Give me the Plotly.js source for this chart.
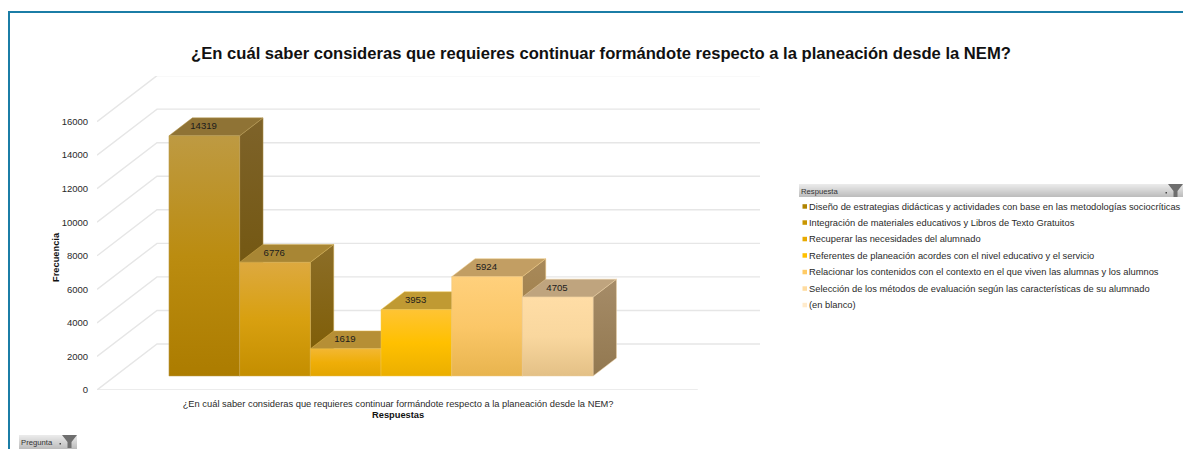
<!DOCTYPE html>
<html><head><meta charset="utf-8">
<script src="https://cdn.plot.ly/plotly-3.0.1.min.js"></script>
<style>html,body{margin:0;padding:0;background:#fff}#c{width:1183px;height:449px}</style>
</head><body><div id="c"></div>
<script>
// ---- data ----
const question = "¿En cuál saber consideras que requieres continuar formándote respecto a la planeación desde la NEM?";
const chartTitle = "¿En cuál saber consideras que requieres continuar formándote respecto a la planeación desde la NEM?";
const categories = [
  "Diseño de estrategias didácticas y actividades con base en las metodologías sociocríticas",
  "Integración de materiales educativos y Libros de Texto Gratuitos",
  "Recuperar las necesidades del alumnado",
  "Referentes de planeación acordes con el nivel educativo y el servicio",
  "Relacionar los contenidos con el contexto en el que viven las alumnas y los alumnos",
  "Selección de los métodos de evaluación según las características de su alumnado",
  "(en blanco)"
];
const values = [14319, 6776, 1619, 3953, 5924, 4705];
const yTicks = [0, 2000, 4000, 6000, 8000, 10000, 12000, 14000, 16000];

// ---- styles ----
const legendColors = ["#B08400","#C99600","#E8AA00","#FFC000","#FFCB66","#FFDCA0","#FFEBCC"];
const frontTop    = ["#BE9A42","#DDA93F","#F3B732","#FFC434","#FFD07C","#FFDDA6"];
const frontMid    = ["#BB8C10","#D8A010","#EFAE08","#FFC000","#FBC768","#F9D79E"];
const frontBottom = ["#AC7C00","#C48E00","#E3A500","#EBAF00","#E8B44E","#E3C086"];
const sideTop     = ["#7E632A","#8C6E28","#9A7A22","#A58420","#A8895A","#A68C68"];
const sideBottom  = ["#6C4F00","#7C5A00","#8C6A00","#98780A","#98783C","#927850"];
const topColor    = ["#8F7335","#A88634","#B68F35","#C09A33","#C29E63","#BFA47E"];
const edge        = ["#B89A50","#D0AC50","#E6BC50","#F0C850","#EFC880","#EBCFA0"];
const FONT = 'Liberation Sans, Arial, sans-serif';

// ---- oblique projection onto the library's axes ----
const DX = 0.849, DY = 2742;     // axis units per unit of depth
const D1 = 0.304, D2 = 0.694;    // bars' front and back plane
const xRange = [-0.76, 8.62], yRange = [0, 18718];
const P = (c, v, d) => [c + d * DX, v + d * DY];
function poly(pts) { const a = pts.concat([pts[0]]); return {x: a.map(p => p[0]), y: a.map(p => p[1])}; }
const shared = {type:'scatter', mode:'lines', fill:'toself', hoverinfo:'skip', showlegend:false};

const traces = [];
// wall and floor gridlines
const grid = {x:[], y:[]};
yTicks.forEach(t => {
  const a = P(0,t,0), b = P(0,t,1);
  grid.x.push(xRange[0], xRange[0] + DX, xRange[1], null);
  grid.y.push(a[1], b[1], b[1], null);
});
traces.push({type:'scatter', mode:'lines', cliponaxis:false, x:grid.x, y:grid.y, line:{color:'#E6E6E6', width:1.4}, hoverinfo:'skip', showlegend:false});
traces.push({type:'scatter', mode:'lines', cliponaxis:false, x:[xRange[0], 7.74], y:[0,0], line:{color:'#E6E6E6', width:1.4}, hoverinfo:'skip', showlegend:false});

// bars
values.forEach((v, i) => {
  const side = poly([P(i+1,0,D1), P(i+1,0,D2), P(i+1,v,D2), P(i+1,v,D1)]);
  const top  = poly([P(i,v,D1), P(i+1,v,D1), P(i+1,v,D2), P(i,v,D2)]);
  const front= poly([P(i,0,D1), P(i+1,0,D1), P(i+1,v,D1), P(i,v,D1)]);
  traces.push(Object.assign({}, shared, side, {
    line:{color:edge[i], width:0.5},
    fillgradient:{type:'vertical', colorscale:[[0,sideBottom[i]],[1,sideTop[i]]]}
  }));
  traces.push(Object.assign({}, shared, top, {
    line:{color:edge[i], width:0.5}, fillcolor:topColor[i]
  }));
  traces.push(Object.assign({}, shared, front, {
    name:categories[i], line:{color:edge[i], width:0.5},
    fillgradient:{type:'vertical', colorscale:[[0,frontBottom[i]],[0.5,frontMid[i]],[1,frontTop[i]]]}
  }));
});
// data labels on the top faces
traces.push({type:'scatter', mode:'text', cliponaxis:false,
  x: values.map((v,i) => i + 0.5 + D1*DX - 0.01),
  y: values.map(v => v + (D1+D2)/2*DY),
  text: values.map(String), textposition:'middle center',
  textfont:{family:FONT, size:9.6, color:'#1c1c1c'},
  hoverinfo:'skip', showlegend:false});

// ---- pixel helpers for the panel chrome ----
const L=97,R=760,T=76,B=390;
const px = X => (X-L)/(R-L), py = Y => (B-Y)/(B-T);
const shapes = [], annotations = [];
const rect = (x0,y0,x1,y1,c) => shapes.push({type:'rect',xref:'paper',yref:'paper',x0:px(x0),x1:px(x1),y0:py(y0),y1:py(y1),fillcolor:c,line:{width:0},layer:'below'});
// panel border
rect(8,11,10,449,'#1B7DA6'); rect(8,11,1183,13,'#1B7DA6');
const label = (x,y,text,size,anchor,opts) => annotations.push(Object.assign({xref:'paper',yref:'paper',x:px(x),y:py(y),text,showarrow:false,xanchor:anchor||'left',yanchor:'middle',align:'left',
  font:{family:FONT,size,color:'#2a2a2a'},borderpad:0},opts||{}));
function funnel(x,y){
  const path=`M ${px(x)} ${py(y)} L ${px(x+15)} ${py(y)} L ${px(x+9.5)} ${py(y+7)} L ${px(x+9.5)} ${py(y+13)} L ${px(x+5.5)} ${py(y+13)} L ${px(x+5.5)} ${py(y+7)} Z`;
  shapes.push({type:'path',xref:'paper',yref:'paper',path,fillcolor:'#6E6E6E',line:{width:0}});
}
function filterBar(x0,y0,x1,y1,text){
  const n=y1-y0;
  for(let k=0;k<n;k++){const g=Math.round(234-k*(234-186)/n);rect(x0,y0+k,x1,y0+k+1,`rgb(${g},${g},${g})`);}
  label(x0+0.5,(y0+y1)/2+0.5,text,7.7,'left',{font:{family:FONT,size:7.7,color:'#333'}});
  funnel(x1-15,y0);
  rect(x1-17.5,y0+8,x1-16,y0+9.5,'#444');
}
filterBar(799,184,1183,197,'Respuesta');
filterBar(19,435,77,449,'Pregunta');
// legend
const rowY=[206.7,222.8,239.3,255.7,272.3,288.8,305.3];
categories.forEach((c,i)=>{
  rect(802.5,rowY[i]-2.5,807,rowY[i]+2,legendColors[i]);
  label(808,rowY[i],c,9.33);
});
// axis titles sit off the plot's centre in the reference
label(398,415,'<b>Respuestas</b>',9.3,'center',{font:{family:FONT,size:9.3,color:'#111'}});
label(56,257,'<b>Frecuencia</b>',9.3,'center',{textangle:-90,font:{family:FONT,size:9.3,color:'#111'}});

Plotly.newPlot('c',traces,{
  width:1183,height:449,autosize:false,
  margin:{l:L,r:1183-R,t:T,b:449-B,pad:0},
  paper_bgcolor:'#fff',plot_bgcolor:'rgba(0,0,0,0)',showlegend:false,
  title:{text:'<b>'+chartTitle+'</b>',font:{family:FONT,size:16.6,color:'#111'},x:601/1183,xanchor:'center',y:1-53/449,yanchor:'middle'},
  xaxis:{range:xRange,showgrid:false,zeroline:false,showline:false,ticks:'outside',ticklen:5,tickcolor:'rgba(0,0,0,0)',tickmode:'array',tickvals:[3.5],ticktext:[question],
    tickfont:{family:FONT,size:9.33,color:'#2a2a2a'},fixedrange:true},
  yaxis:{range:yRange,showgrid:false,zeroline:false,showline:false,ticks:'outside',ticklen:6,tickcolor:'rgba(0,0,0,0)',tickmode:'array',tickvals:yTicks,
    ticktext:yTicks.map(String),tickfont:{family:FONT,size:9.5,color:'#2a2a2a'},fixedrange:true},
  shapes,annotations
},{displayModeBar:false,staticPlot:true});
</script></body></html>
